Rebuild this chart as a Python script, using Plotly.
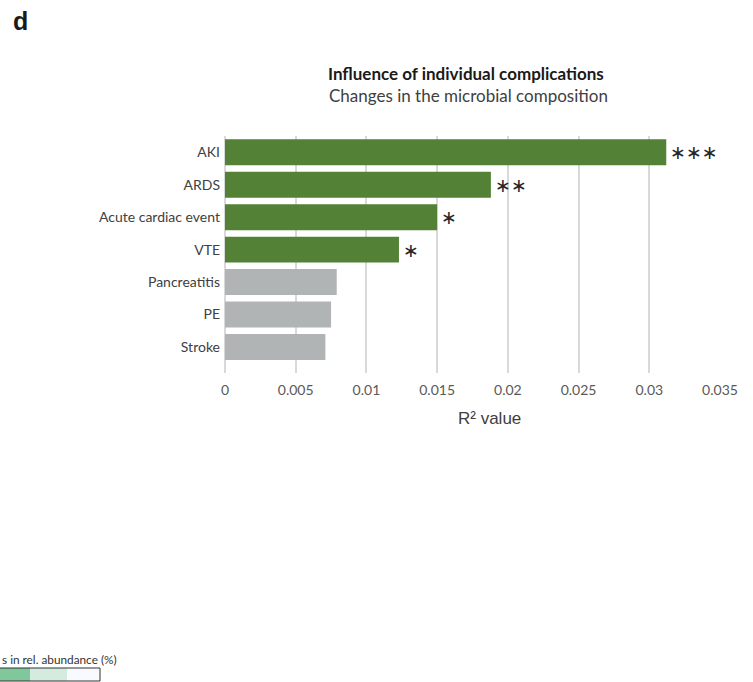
import plotly.graph_objects as go

# Complications ranked by R² (explained variation in microbial composition)
complications = ["AKI", "ARDS", "Acute cardiac event", "VTE", "Pancreatitis", "PE", "Stroke"]
r2_values = [0.0312, 0.0188, 0.0150, 0.0123, 0.0079, 0.0075, 0.0071]
significance = ["∗∗∗", "∗∗", "∗", "∗", "", "", ""]

tick_values = [0, 0.005, 0.01, 0.015, 0.02, 0.025, 0.03, 0.035]
tick_labels = ["0", "0.005", "0.01", "0.015", "0.02", "0.025", "0.03", "0.035"]

GREEN = "#538135"
GREY = "#b1b4b5"
bar_colors = [GREEN if s else GREY for s in significance]

W, H = 753, 682
label_font = "Lato, 'Open Sans', sans-serif"

fig = go.Figure()
fig.add_trace(go.Bar(
    x=r2_values,
    y=complications,
    orientation="h",
    marker=dict(color=bar_colors, line=dict(width=0)),
    width=0.8,
    hoverinfo="x+y",
))

# significance stars right of each bar
for name, val, star in zip(complications, r2_values, significance):
    if star:
        fig.add_annotation(
            x=val, y=name, xref="x", yref="y",
            text=star, showarrow=False,
            xanchor="left", yanchor="middle", xshift=2, yshift=0,
            font=dict(family="DejaVu Sans", size=19, color="#262626"),
        )

fig.update_layout(
    width=W, height=H,
    margin=dict(l=0, r=0, t=0, b=0, pad=0, autoexpand=False),
    paper_bgcolor="white", plot_bgcolor="white",
    showlegend=False,
    bargap=0.2,
    xaxis=dict(
        domain=[225 / W, 720 / W],
        range=[0, 0.035],
        automargin=False,
        tickvals=tick_values, ticktext=tick_labels,
        showgrid=True, gridcolor="#d9d9d9", gridwidth=1.5,
        zeroline=True, zerolinecolor="#d9d9d9", zerolinewidth=1.5,
        showline=False, ticks="",
        ticklabelstandoff=7,
        tickfont=dict(family=label_font, size=14, color="#595959"),
    ),
    yaxis=dict(
        domain=[1 - 373 / H, 1 - 136 / H],
        range=[6.8, -0.5],
        automargin=False,
        showgrid=False, zeroline=False, showline=False, ticks="",
        ticklabelstandoff=4,
        tickfont=dict(family=label_font, size=14, color="#404040"),
    ),
)

# x-axis title, set slightly right of the axis centre
fig.add_annotation(
    x=489 / W, y=1 - 418 / H, xref="paper", yref="paper",
    text="R² value", showarrow=False, xanchor="center", yanchor="middle",
    font=dict(family="Liberation Sans, Arial", size=17, color="#404040"),
)

# panel letter
fig.add_annotation(
    x=11 / W, y=1 - 21 / H, xref="paper", yref="paper",
    text="<b>d</b>", showarrow=False, xanchor="left", yanchor="middle",
    font=dict(family="Liberation Sans, Arial", size=25, color="#1a1a1a"),
)

# chart title and subtitle
fig.add_annotation(
    x=466 / W, y=1 - 73 / H, xref="paper", yref="paper",
    text="<b>Influence of individual complications</b>", showarrow=False,
    xanchor="center", yanchor="middle",
    font=dict(family=label_font, size=17, color="#1a1a1a"),
)
fig.add_annotation(
    x=468 / W, y=1 - 96 / H, xref="paper", yref="paper",
    text="Changes in the microbial composition", showarrow=False,
    xanchor="center", yanchor="middle",
    font=dict(family=label_font, size=17, color="#404040"),
)

# colour key fragment at the bottom-left edge
fig.add_annotation(
    x=0, y=1 - 659 / H, xref="paper", yref="paper",
    text="s in rel. abundance (%)", showarrow=False,
    xanchor="left", yanchor="middle",
    font=dict(family=label_font, size=11.8, color="#333333"),
)
key_segments = [(0, 30, "#80c79c"), (30, 67, "#d4ebe0"), (67, 100, "#f8fafd")]
for x0, x1, col in key_segments:
    fig.add_shape(type="rect", xref="paper", yref="paper",
                  x0=x0 / W, x1=x1 / W, y0=1 - 681 / H, y1=1 - 668 / H,
                  fillcolor=col, line=dict(width=0), layer="above")
fig.add_shape(type="rect", xref="paper", yref="paper",
              x0=-1 / W, x1=100 / W, y0=1 - 681 / H, y1=1 - 668 / H,
              fillcolor="rgba(0,0,0,0)", line=dict(color="#333333", width=1), layer="above")

fig.write_html("out.html")
